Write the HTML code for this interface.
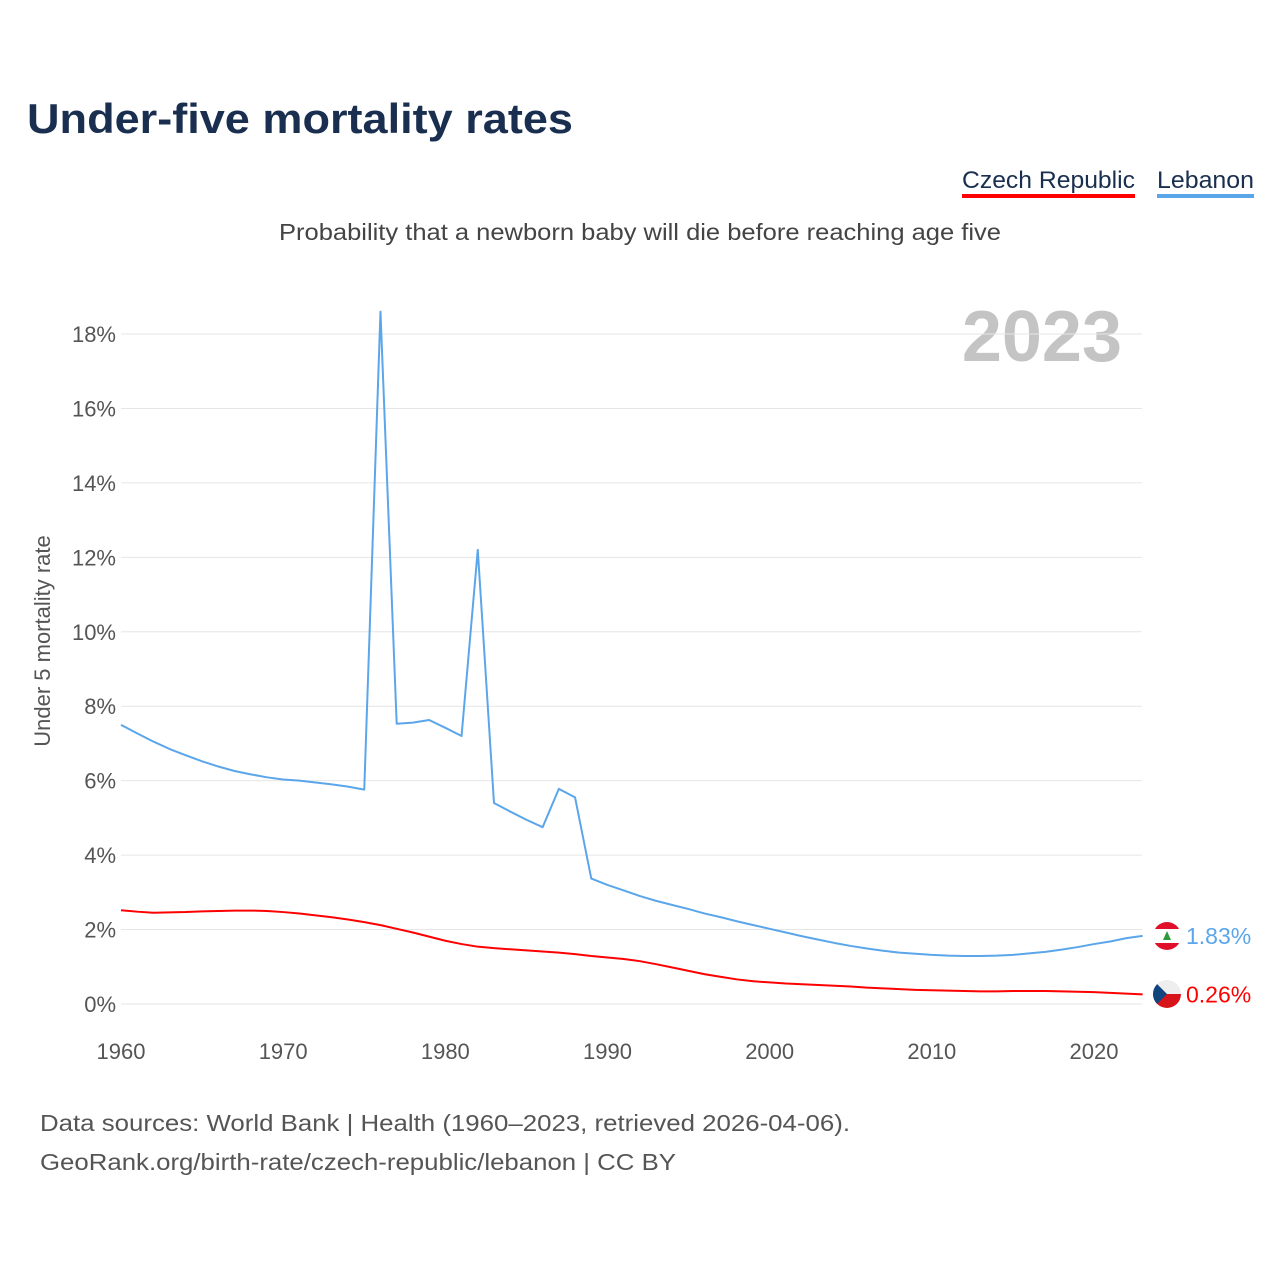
<!DOCTYPE html>
<html><head><meta charset="utf-8"><style>
body{margin:0;background:#fff;width:1280px;height:1280px;overflow:hidden;font-family:"Liberation Sans",sans-serif}
</style></head><body>
<svg width="1280" height="1280" xmlns="http://www.w3.org/2000/svg">
<defs>
<clipPath id="cl"><circle cx="1167" cy="936" r="14"/></clipPath>
<clipPath id="cc"><circle cx="1167" cy="994" r="14"/></clipPath>
</defs>
<text x="27" y="133" font-size="42" font-weight="bold" fill="#1a2f4f" textLength="546" lengthAdjust="spacingAndGlyphs">Under-five mortality rates</text>
<g>
<text x="962" y="188" font-size="24" fill="#1a2f4f" textLength="173" lengthAdjust="spacingAndGlyphs">Czech Republic</text>
<rect x="962" y="194" width="173" height="4" fill="#ff0000"/>
<text x="1157" y="188" font-size="24" fill="#1a2f4f" textLength="97" lengthAdjust="spacingAndGlyphs">Lebanon</text>
<rect x="1157" y="194" width="97" height="4" fill="#5ba6ea"/>
</g>
<text x="279" y="240" font-size="23" fill="#444" textLength="722" lengthAdjust="spacingAndGlyphs">Probability that a newborn baby will die before reaching age five</text>
<text x="1122" y="361" font-size="72" font-weight="bold" fill="#c4c4c4" text-anchor="end">2023</text>
<text transform="translate(50,641) rotate(-90)" font-size="22" fill="#555" text-anchor="middle">Under 5 mortality rate</text>
<g id="grid"></g><g id="xt"></g><g id="lines"></g>
<g clip-path="url(#cl)">
<rect x="1153" y="922" width="28" height="28" fill="#fff"/>
<rect x="1153" y="922" width="28" height="7" fill="#e0102a"/>
<rect x="1153" y="943" width="28" height="7" fill="#e0102a"/>
<polygon points="1167,931 1163,940 1171,940" fill="#2a9a3a"/>
</g>
<g clip-path="url(#cc)">
<rect x="1153" y="980" width="28" height="14" fill="#eee"/>
<rect x="1153" y="994" width="28" height="14" fill="#d7141a"/>
<polygon points="1153,980 1167,994 1153,1008" fill="#11457e"/>
</g>
<text x="40" y="1131" font-size="23" fill="#555" textLength="810" lengthAdjust="spacingAndGlyphs">Data sources: World Bank | Health (1960–2023, retrieved 2026-04-06).</text>
<text x="40" y="1170" font-size="23" fill="#555" textLength="636" lengthAdjust="spacingAndGlyphs">GeoRank.org/birth-rate/czech-republic/lebanon | CC BY</text>
</svg>
<script>
const years=[];for(let y=1960;y<=2023;y++)years.push(y);
const lebanon=[7.5,7.27,7.05,6.85,6.68,6.52,6.38,6.26,6.17,6.09,6.03,6.0,5.95,5.9,5.84,5.76,18.6,7.53,7.56,7.63,7.42,7.2,12.2,5.4,5.17,4.95,4.75,5.78,5.55,3.37,3.2,3.05,2.9,2.77,2.66,2.55,2.43,2.33,2.22,2.12,2.02,1.92,1.82,1.73,1.64,1.56,1.49,1.43,1.38,1.35,1.32,1.3,1.29,1.29,1.3,1.32,1.36,1.4,1.46,1.53,1.61,1.68,1.77,1.83];
const czech=[2.52,2.48,2.45,2.46,2.47,2.49,2.5,2.51,2.51,2.5,2.47,2.43,2.38,2.33,2.27,2.2,2.12,2.02,1.92,1.81,1.7,1.61,1.54,1.5,1.47,1.44,1.41,1.38,1.34,1.29,1.25,1.21,1.15,1.07,0.98,0.89,0.8,0.73,0.66,0.61,0.58,0.55,0.53,0.51,0.49,0.47,0.44,0.42,0.4,0.38,0.37,0.36,0.35,0.34,0.34,0.35,0.35,0.35,0.34,0.33,0.32,0.3,0.28,0.26];
const yTicks=[0,2,4,6,8,10,12,14,16,18];
const xTicks=[1960,1970,1980,1990,2000,2010,2020];
const X=y=>121+(y-1960)*(1094-121)/60;
const Y=v=>1004-v*(1004-334)/18;
const NS="http://www.w3.org/2000/svg";
function mk(tag,at,par){const e=document.createElementNS(NS,tag);for(const k in at)e.setAttribute(k,at[k]);par.appendChild(e);return e;}
const grid=document.getElementById('grid');
yTicks.forEach(t=>{
 const l=mk('line',{x1:121,x2:1142,y1:Y(t),y2:Y(t),stroke:'#e6e6e6','stroke-width':1},grid);
 
 
 const tx=mk('text',{x:116,y:Y(t)+8,'font-size':22,fill:'#555','text-anchor':'end'},grid);
 tx.textContent=t+'%';
 
 
});
const xt=document.getElementById('xt');
xTicks.forEach(t=>{
 const tx=mk('text',{x:X(t),y:1059,'font-size':22,fill:'#555','text-anchor':'middle'},xt);
 tx.textContent=t;
 
 
});
const lines=document.getElementById('lines');
function series(vals,color,name){
 const p=mk('polyline',{points:vals.map((v,i)=>X(years[i])+','+Y(v)).join(' '),fill:'none',stroke:color,'stroke-width':2,'stroke-linejoin':'round'},lines);
 
 
 const last=vals[vals.length-1], cy=Y(last);
 const tx=mk('text',{x:1186,y:cy+8,'font-size':23,fill:color},lines);
 tx.textContent=last.toFixed(2)+'%';
 
 
}
series(lebanon,'#5ba6ea','lebanon');
series(czech,'#ff0000','czech');
</script>
</body></html>
